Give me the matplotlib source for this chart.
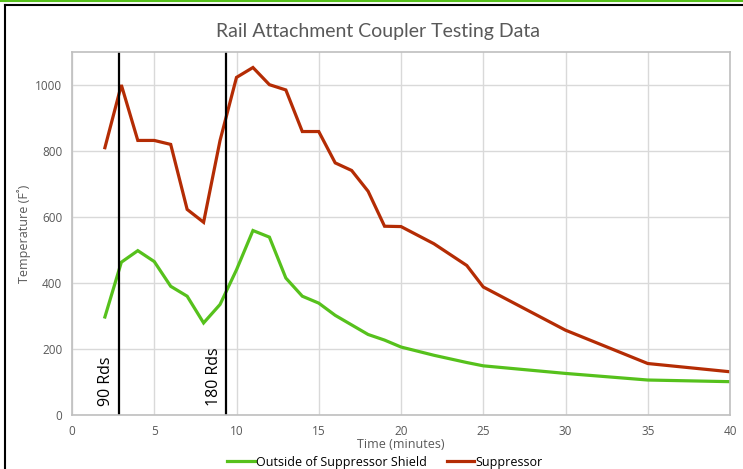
import matplotlib
matplotlib.use("Agg")
import matplotlib.pyplot as plt
from matplotlib.lines import Line2D

# time in minutes
minutes = [2, 3, 4, 5, 6, 7, 8, 9, 10, 11, 12, 13, 14, 15, 16, 17, 18, 19, 20,
           22, 24, 25, 30, 35, 40]
shield = [297, 463, 498, 465, 390, 360, 279, 335, 440, 559, 539, 415, 360, 339,
          302, 273, 244, 227, 206, 181, 159, 149, 126, 106, 101]
suppressor = [810, 1000, 832, 832, 820, 623, 584, 832, 1023, 1053, 1001, 985,
              859, 859, 764, 741, 678, 572, 571, 519, 453, 388, 257, 156, 131]
series_names = ["Outside of Suppressor Shield", "Suppressor"]
marker_times = [2.83, 9.39]
marker_labels = ["90 Rds", "180 Rds"]

green = "#56C11C"
red = "#B42C04"
gray = "#595959"

fig = plt.figure(figsize=(7.43, 4.69), dpi=100)
ax = fig.add_axes([72 / 743, 1 - 415 / 469, 658 / 743, 363 / 469])

ax.plot(minutes, shield, color=green, lw=2.3, solid_joinstyle="miter")
ax.plot(minutes, suppressor, color=red, lw=2.3, solid_joinstyle="miter")

for t, lab in zip(marker_times, marker_labels):
    ax.axvline(t, color="black", lw=1.6)
    ax.text(t - 0.25, 26, lab, rotation=90, ha="right", va="bottom",
            fontsize=11.5, family="Open Sans", color="black")

ax.set_xlim(0, 40)
ax.set_ylim(0, 1100)
ax.set_xticks(range(0, 41, 5))
ax.set_yticks(range(0, 1001, 200))
ax.grid(True, color="#D9D9D9", lw=1)
ax.set_axisbelow(True)
ax.tick_params(length=0, labelsize=8.5, labelcolor=gray, pad=7)
for lab in ax.get_xticklabels() + ax.get_yticklabels():
    lab.set_family("Open Sans")
for s in ax.spines.values():
    s.set_color("#BFBFBF")
    s.set_linewidth(1.2)

ax.set_xlabel("Time (minutes)", fontsize=9, color=gray, family="Open Sans",
              labelpad=0.5)
ax.set_ylabel("Temperature (F˚)", fontsize=9, color=gray, family="Open Sans",
              labelpad=3)

fig.text(378 / 743, 1 - 31 / 469, "Rail Attachment Coupler Testing Data",
         ha="center", va="center", fontsize=14, color=gray, family="Lato")

handles = [Line2D([], [], color=green, lw=2.3), Line2D([], [], color=red, lw=2.3)]
fig.legend(handles, series_names, loc="center", bbox_to_anchor=(385 / 743, 1 - 462 / 469),
           ncol=2, frameon=False, fontsize=9, handlelength=2.2, handletextpad=0.1,
           columnspacing=1.6, prop={"family": "Open Sans", "size": 9})

# outer frame and top strip
fig.add_artist(Line2D([5 / 743, 5 / 743], [0, 1 - 5 / 469], color="black", lw=1.5,
                      transform=fig.transFigure))
fig.add_artist(Line2D([5 / 743, 1], [1 - 5 / 469, 1 - 5 / 469], color="black", lw=1.5,
                      transform=fig.transFigure))
fig.add_artist(Line2D([0, 1], [1 - 0.7 / 469, 1 - 0.7 / 469], color=green, lw=1.5,
                      transform=fig.transFigure))

fig.savefig("out.png", dpi=100)
